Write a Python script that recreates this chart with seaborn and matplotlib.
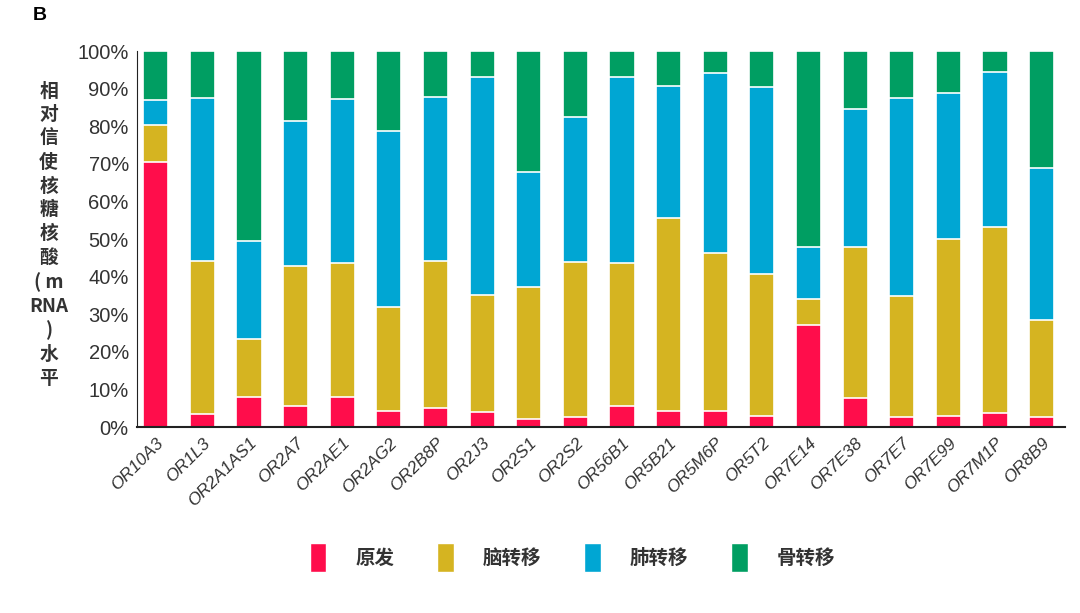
import seaborn as sns
import pandas as pd
import matplotlib.pyplot as plt
from matplotlib.patches import Patch

genes = ['OR10A3', 'OR1L3', 'OR2A1AS1', 'OR2A7', 'OR2AE1', 'OR2AG2', 'OR2B8P', 'OR2J3',
         'OR2S1', 'OR2S2', 'OR56B1', 'OR5B21', 'OR5M6P', 'OR5T2', 'OR7E14', 'OR7E38',
         'OR7E7', 'OR7E99', 'OR7M1P', 'OR8B9']
primary = [70.5, 3.5, 7.9, 5.6, 8.1, 4.3, 5.1, 4.1, 2.1, 2.6, 5.6, 4.3, 4.3, 2.9, 27.1, 7.8, 2.7, 2.9, 3.6, 2.7]
brain = [9.8, 40.7, 15.6, 37.2, 35.4, 27.5, 39.1, 30.9, 35.2, 41.4, 37.9, 51.2, 41.9, 37.7, 6.9, 40.0, 32.2, 47.0, 49.7, 25.8]
lung = [6.7, 43.2, 26.0, 38.5, 43.8, 46.8, 43.5, 58.0, 30.5, 38.5, 49.5, 35.2, 47.9, 49.9, 14.0, 36.7, 52.7, 38.8, 41.2, 40.3]
bone = [13.0, 12.6, 50.5, 18.7, 12.7, 21.4, 12.3, 7.0, 32.2, 17.5, 7.0, 9.3, 5.9, 9.5, 52.0, 15.5, 12.4, 11.3, 5.5, 31.2]
groups = ['原发', '脑转移', '肺转移', '骨转移']
colors = ['#FF0D4B', '#D5B421', '#00A6D3', '#009E62']

df = pd.DataFrame({'gene': genes, '原发': primary, '脑转移': brain, '肺转移': lung, '骨转移': bone})
cum = df[groups].cumsum(axis=1)
cum['gene'] = df['gene']

plt.rcParams['font.family'] = ['Liberation Sans', 'Noto Sans CJK SC', 'DejaVu Sans']
fig = plt.figure(figsize=(10.8, 6.13), dpi=100)
ax = fig.add_axes([0.127, 0.3034, 0.859, 0.6134])

# stacked bars: draw cumulative totals from the top down
for g, c in reversed(list(zip(groups, colors))):
    sns.barplot(data=cum, x='gene', y=g, color=c, width=0.54, edgecolor='white',
                linewidth=1.2, saturation=1, ax=ax)

ax.set_ylim(0, 100)
ax.set_xlim(-0.4, len(genes) - 0.5)
ax.set_yticks(range(0, 101, 10))
ax.set_yticklabels([f'{v}%' for v in range(0, 101, 10)], fontsize=14.5, color='#333333')
ax.set_xticks(range(len(genes)))
ax.set_xticklabels(genes, rotation=45, ha='right', rotation_mode='anchor',
                   fontsize=12.5, style='italic', color='#333333')
ax.tick_params(length=0, pad=6)
ax.set_xlabel('')
ax.set_ylabel('')
for s in ['top', 'right']:
    ax.spines[s].set_visible(False)
ax.spines['left'].set_color('#222222')
ax.spines['bottom'].set_color('#222222')
ax.spines['bottom'].set_linewidth(1.5)

fig.text(0.045, 0.617, '相\n对\n信\n使\n核\n糖\n核\n酸\n( m\nRNA\n)\n水\n平',
         ha='center', va='center', fontsize=13.5, fontweight='bold', color='#333333',
         linespacing=1.32, family=['Noto Sans CJK SC', 'DejaVu Sans'])
fig.text(0.03, 0.975, 'B', fontsize=14, fontweight='bold', va='center')

handles = [Patch(facecolor=c, edgecolor='white') for c in colors]
leg = fig.legend(handles, groups, loc='center', bbox_to_anchor=(0.53, 0.09), ncol=4,
                 frameon=False, handlelength=0.85, handleheight=1.9, handletextpad=1.5,
                 columnspacing=2.2,
                 prop={'family': ['Noto Sans CJK SC', 'DejaVu Sans'], 'size': 14, 'weight': 'bold'})
for t in leg.get_texts():
    t.set_color('#333333')

fig.savefig('out.png', dpi=100)
